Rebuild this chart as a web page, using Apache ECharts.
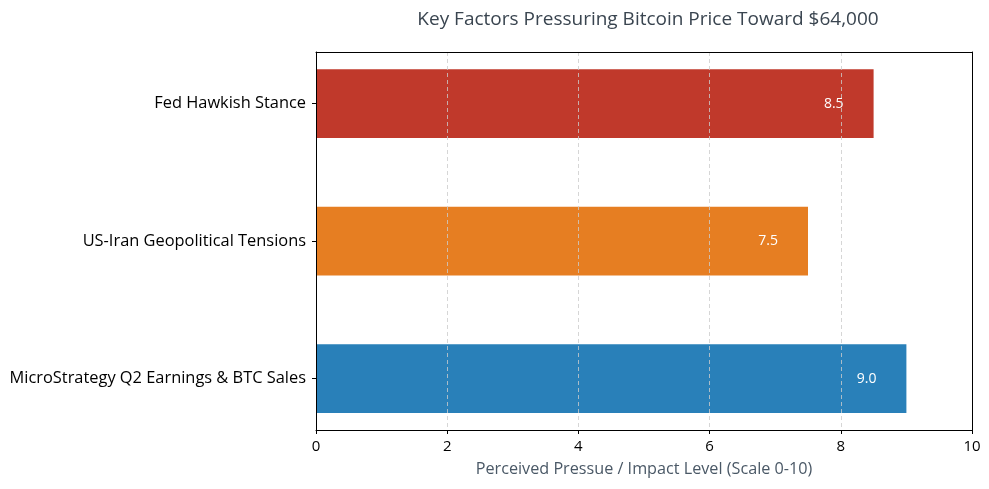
<!DOCTYPE html>
<html>
<head>
<meta charset="utf-8">
<script src="https://cdn.jsdelivr.net/npm/echarts@6/dist/echarts.min.js"></script>
<style>html,body{margin:0;padding:0;background:#fff}#c{width:989px;height:489px}</style>
</head>
<body>
<div id="c"></div>
<script>
var categories = ['MicroStrategy Q2 Earnings & BTC Sales', 'US-Iran Geopolitical Tensions', 'Fed Hawkish Stance'];
var values = [9.0, 7.5, 8.5];
var barColors = ['#2980b9', '#e67e22', '#c0392b'];
var xTicks = [0, 2, 4, 6, 8, 10];

var FONT = 'Open Sans';
var frameAxis = {
  show: true, z: 15,
  axisLine: { show: true, onZero: false, lineStyle: { color: '#000', width: 1 } },
  axisTick: { show: false }, axisLabel: { show: false }, splitLine: { show: false }
};
var chart = echarts.init(document.getElementById('c'));
chart.setOption({
  backgroundColor: '#fff',
  animation: false,
  textStyle: { fontFamily: FONT },
  title: {
    text: 'Key Factors Pressuring Bitcoin Price Toward $64,000',
    left: 643, top: 5, textAlign: 'center',
    textStyle: { fontFamily: FONT, fontSize: 19, fontWeight: 'normal', color: '#3a4550' }
  },
  grid: [
    { left: 316, right: 17, top: 34.9, height: 412.5 },
    { left: 316, right: 17, top: 52, height: 378 }
  ],
  xAxis: [
    { gridIndex: 0, type: 'value', min: 0, max: 10, show: false },
    {
      gridIndex: 1, type: 'value', min: xTicks[0], max: xTicks[xTicks.length - 1], interval: 2, z: 10,
      axisLine: { show: true, onZero: false, lineStyle: { color: '#000' } },
      axisTick: { show: true, length: 4, lineStyle: { color: '#000' } },
      axisLabel: { color: '#000', fontSize: 15, margin: 9, fontFamily: FONT },
      splitLine: { show: true, lineStyle: { color: '#cccccc', type: [4, 3], width: 0.8 } },
      name: 'Perceived Pressue / Impact Level (Scale 0-10)',
      nameLocation: 'middle', nameGap: 31,
      nameTextStyle: { color: '#4a5866', fontSize: 16.2, fontFamily: FONT }
    },
    Object.assign({ gridIndex: 1, type: 'value', min: 0, max: 10, position: 'top' }, frameAxis)
  ],
  yAxis: [
    {
      gridIndex: 0, type: 'category', data: categories,
      axisLine: { show: false },
      axisTick: { show: true, alignWithLabel: true, length: 4, lineStyle: { color: '#000' } },
      axisLabel: { color: '#000', fontSize: 16.4, margin: 10, fontFamily: FONT },
      splitLine: { show: false }
    },
    Object.assign({ gridIndex: 1, type: 'value', min: 0, max: 1, position: 'left' }, frameAxis),
    Object.assign({ gridIndex: 1, type: 'value', min: 0, max: 1, position: 'right' }, frameAxis)
  ],
  series: [{
    type: 'bar',
    xAxisIndex: 0, yAxisIndex: 0,
    barWidth: '50%',
    data: values.map(function (v, i) { return { value: v, itemStyle: { color: barColors[i] } }; }),
    label: {
      show: true, position: 'insideRight', distance: 30,
      color: '#fff', fontSize: 14, fontFamily: FONT,
      formatter: function (p) { return p.value.toFixed(1); }
    }
  }]
});
</script>
</body>
</html>
